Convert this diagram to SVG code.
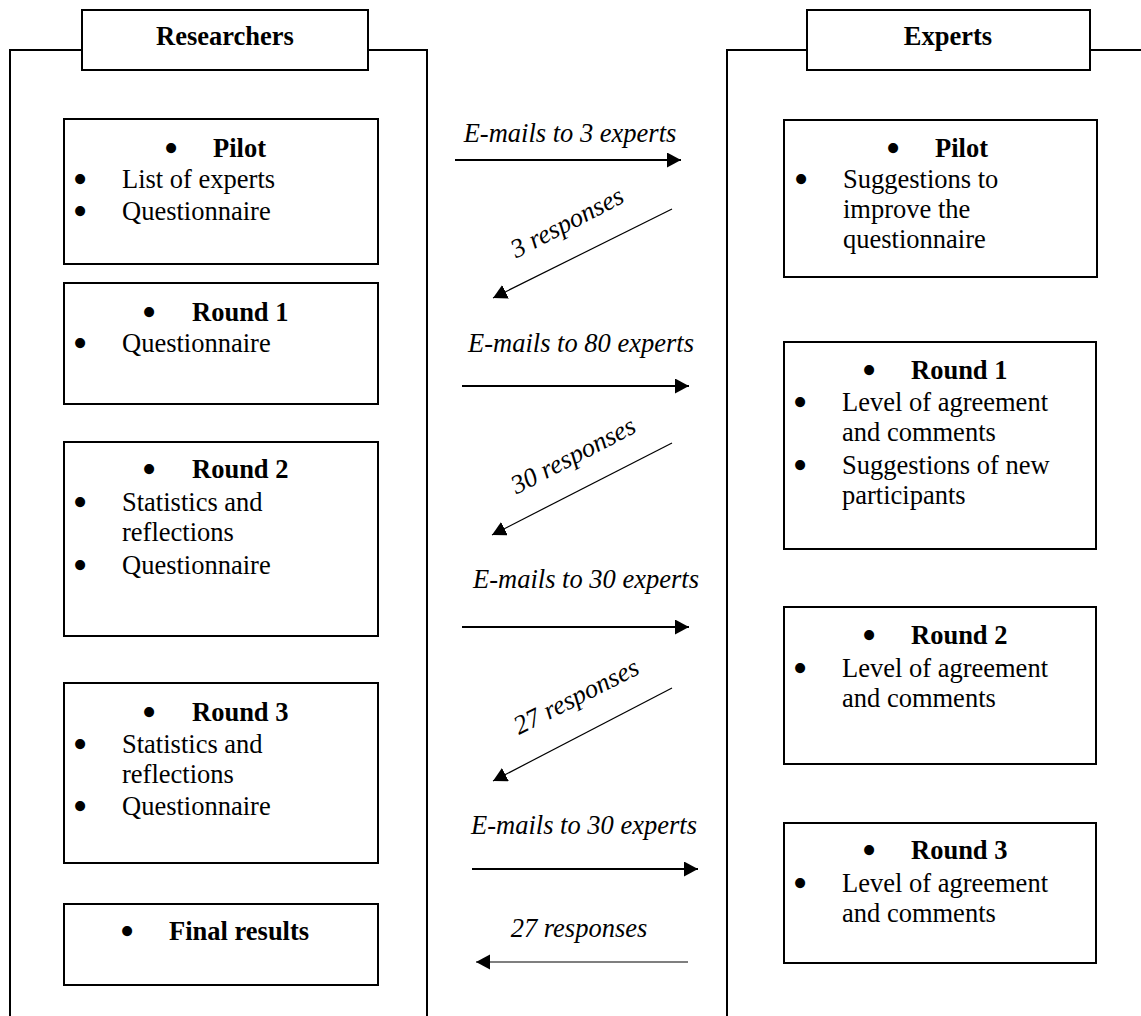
<svg xmlns="http://www.w3.org/2000/svg" width="1141" height="1016" viewBox="0 0 1141 1016">
<style>
.frame{fill:none;stroke:#000;stroke-width:2}
.box{fill:#fff;stroke:#000;stroke-width:2}
.t{font-family:"Liberation Serif","Times New Roman",serif;font-size:26.5px;fill:#000}
.bl{font-family:"Liberation Serif","Times New Roman",serif;font-size:42px;fill:#000;text-anchor:middle}
.b{font-weight:bold}
.i{font-style:italic}
.m{text-anchor:middle}
.thick{stroke:#000;stroke-width:2.2;fill:none}
.thin{stroke:#000;stroke-width:1.2;fill:none}
</style>
<defs>
<marker id="ah" markerUnits="userSpaceOnUse" markerWidth="16" markerHeight="16" refX="14" refY="7.5" orient="auto">
<path d="M0,0 L14,7.5 L0,15 z" fill="#000"/>
</marker>
</defs>
<rect width="1141" height="1016" fill="#fff"/>

<g id="researchers">
<path class="frame" d="M10,1016 V50 H82 M368,50 H427 V1016"/>
<rect class="box" x="82" y="10" width="286" height="60"/>
<text class="t b m" x="225" y="45">Researchers</text>
</g>

<g id="experts">
<path class="frame" d="M727,1016 V50 H807 M1090,50 H1141"/>
<rect class="box" x="807" y="10" width="283" height="60"/>
<text class="t b m" x="948" y="45">Experts</text>
</g>

<g id="r-pilot">
<rect class="box" x="64" y="119" width="314" height="145"/>
<text class="bl" x="171" y="162">•</text><text class="t b" x="213" y="157">Pilot</text>
<text class="bl" x="80" y="193">•</text><text class="t" x="122" y="188">List of experts</text>
<text class="bl" x="80" y="225">•</text><text class="t" x="122" y="220">Questionnaire</text>
</g>

<g id="r-round1">
<rect class="box" x="64" y="283" width="314" height="121"/>
<text class="bl" x="149" y="326">•</text><text class="t b" x="192" y="321">Round 1</text>
<text class="bl" x="80" y="357">•</text><text class="t" x="122" y="352">Questionnaire</text>
</g>

<g id="r-round2">
<rect class="box" x="64" y="442" width="314" height="194"/>
<text class="bl" x="149" y="483">•</text><text class="t b" x="192" y="478">Round 2</text>
<text class="bl" x="80" y="516">•</text><text class="t" x="122" y="511">Statistics and</text>
<text class="t" x="122" y="541">reflections</text>
<text class="bl" x="80" y="579">•</text><text class="t" x="122" y="574">Questionnaire</text>
</g>

<g id="r-round3">
<rect class="box" x="64" y="683" width="314" height="180"/>
<text class="bl" x="149" y="726">•</text><text class="t b" x="192" y="721">Round 3</text>
<text class="bl" x="80" y="758">•</text><text class="t" x="122" y="753">Statistics and</text>
<text class="t" x="122" y="783">reflections</text>
<text class="bl" x="80" y="820">•</text><text class="t" x="122" y="815">Questionnaire</text>
</g>

<g id="r-final">
<rect class="box" x="64" y="904" width="314" height="81"/>
<text class="bl" x="127" y="945">•</text><text class="t b" x="169" y="940">Final results</text>
</g>

<g id="e-pilot">
<rect class="box" x="784" y="120" width="313" height="157"/>
<text class="bl" x="893" y="162">•</text><text class="t b" x="935" y="157">Pilot</text>
<text class="bl" x="801" y="193">•</text><text class="t" x="843" y="188">Suggestions to</text>
<text class="t" x="843" y="218">improve the</text>
<text class="t" x="843" y="248">questionnaire</text>
</g>

<g id="e-round1">
<rect class="box" x="784" y="342" width="312" height="207"/>
<text class="bl" x="869" y="384">•</text><text class="t b" x="911" y="379">Round 1</text>
<text class="bl" x="800" y="416">•</text><text class="t" x="842" y="411">Level of agreement</text>
<text class="t" x="842" y="441">and comments</text>
<text class="bl" x="800" y="479">•</text><text class="t" x="842" y="474">Suggestions of new</text>
<text class="t" x="842" y="504">participants</text>
</g>

<g id="e-round2">
<rect class="box" x="784" y="607" width="312" height="157"/>
<text class="bl" x="869" y="649">•</text><text class="t b" x="911" y="644">Round 2</text>
<text class="bl" x="800" y="682">•</text><text class="t" x="842" y="677">Level of agreement</text>
<text class="t" x="842" y="707">and comments</text>
</g>

<g id="e-round3">
<rect class="box" x="784" y="823" width="312" height="140"/>
<text class="bl" x="869" y="864">•</text><text class="t b" x="911" y="859">Round 3</text>
<text class="bl" x="800" y="897">•</text><text class="t" x="842" y="892">Level of agreement</text>
<text class="t" x="842" y="922">and comments</text>
</g>

<g id="connectors">
<line class="thick" x1="455" y1="160" x2="681" y2="160" marker-end="url(#ah)"/>
<text class="t i m" x="570" y="142">E-mails to 3 experts</text>

<line class="thin" x1="672" y1="209" x2="493" y2="298" marker-end="url(#ah)"/>
<text class="t i m" transform="translate(571,230) rotate(-27.5)" x="0" y="0">3 responses</text>

<line class="thick" x1="462" y1="386" x2="689" y2="386" marker-end="url(#ah)"/>
<text class="t i m" x="581" y="352">E-mails to 80 experts</text>

<line class="thin" x1="672" y1="443" x2="492" y2="535" marker-end="url(#ah)"/>
<text class="t i m" transform="translate(577,463) rotate(-27.5)" x="0" y="0">30 responses</text>

<line class="thick" x1="462" y1="627" x2="689" y2="627" marker-end="url(#ah)"/>
<text class="t i m" x="586" y="588">E-mails to 30 experts</text>

<line class="thin" x1="672" y1="688" x2="493" y2="781" marker-end="url(#ah)"/>
<text class="t i m" transform="translate(580,704) rotate(-27)" x="0" y="0">27 responses</text>

<line class="thick" x1="472" y1="869" x2="698" y2="869" marker-end="url(#ah)"/>
<text class="t i m" x="584" y="834">E-mails to 30 experts</text>

<line class="thin" x1="688" y1="962" x2="476" y2="962" marker-end="url(#ah)"/>
<text class="t i m" x="579" y="937">27 responses</text>
</g>
</svg>
